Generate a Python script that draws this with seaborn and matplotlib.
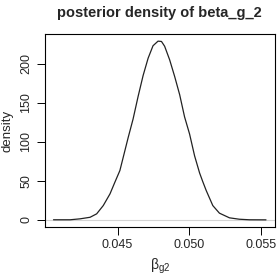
import numpy as np
import pandas as pd
import seaborn as sns
import matplotlib.pyplot as plt

# Posterior density curve
beta_g2 = [0.04053, 0.04169, 0.04238, 0.04308, 0.04354, 0.04400, 0.04447,
           0.04481, 0.04516, 0.04539, 0.04574, 0.04608, 0.04643, 0.04678,
           0.04713, 0.04747, 0.04782, 0.04806, 0.04828, 0.04863, 0.04898,
           0.04933, 0.04967, 0.05002, 0.05037, 0.05072, 0.05094, 0.05118,
           0.05164, 0.05210, 0.05280, 0.05349, 0.05419, 0.05535]
density = [0.1, 0.1, 1.3, 3.3, 7.7, 18.3, 33.3,
           48.2, 63.2, 80.0, 105.6, 129.2, 158.1, 185.0,
           207.2, 223.1, 229.0, 228.6, 222.5, 205.1, 183.7,
           160.3, 132.0, 110.0, 82.0, 60.0, 49.0, 37.6,
           18.3, 8.6, 2.6, 0.8, 0.1, 0.0]

x_ticks = [0.045, 0.050, 0.055]
y_ticks = [0, 50, 100, 150, 200]

df = pd.DataFrame({"beta": beta_g2, "density": density})

sns.set_style("white")
plt.rcParams['font.family'] = ['Liberation Sans', 'DejaVu Sans']
plt.rcParams['mathtext.fontset'] = 'custom'
plt.rcParams['mathtext.rm'] = 'Liberation Sans'
plt.rcParams['mathtext.it'] = 'Liberation Sans'

fig = plt.figure(figsize=(2.77, 2.77), dpi=100)
ax = fig.add_axes([45 / 277, 50 / 277, 229.5 / 277, 193 / 277])

# R-like 4% padding around the data
xr = max(beta_g2) - min(beta_g2)
yr = max(density) - min(density)
ax.set_xlim(min(beta_g2) - 0.04 * xr, max(beta_g2) + 0.04 * xr)
ax.set_ylim(min(density) - 0.04 * yr, max(density) + 0.04 * yr)

ax.axhline(0, color="#d4d4d4", lw=0.8, zorder=1)
sns.lineplot(data=df, x="beta", y="density", color="#222222", lw=0.9,
             ax=ax, zorder=2)

ax.set_xticks(x_ticks)
ax.set_xticklabels([f"{t:.3f}" for t in x_ticks])
ax.set_yticks(y_ticks)
ax.set_yticklabels([str(t) for t in y_ticks], rotation=90, va="center")
ax.tick_params(axis="both", direction="out", length=6, width=0.7,
               color="black", labelsize=9, pad=3, bottom=True, left=True)

for s in ax.spines.values():
    s.set_color("black")
    s.set_linewidth(0.8)

ax.set_xlabel(r"$\mathrm{\beta}_{\mathrm{g2}}$", fontsize=10, labelpad=4)
ax.set_ylabel("density", fontsize=9.5, labelpad=5)
ax.set_title("posterior density of beta_g_2", fontsize=10.5,
             fontweight="bold", pad=12)

fig.savefig("out.png", dpi=100)
